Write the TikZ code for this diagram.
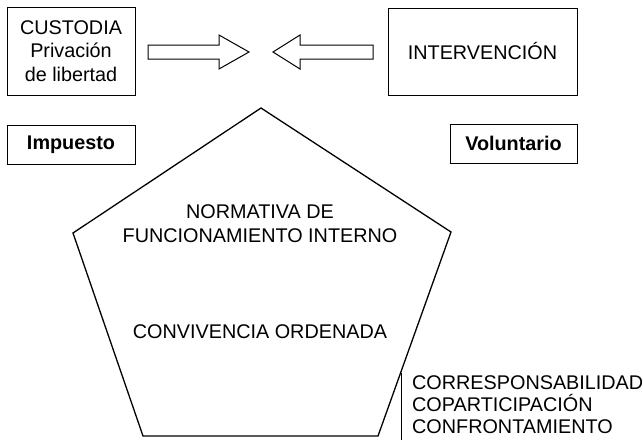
\documentclass[tikz,border=0pt]{standalone}
\usepackage{fontspec}
\setmainfont{Liberation Sans}
\begin{document}
\begin{tikzpicture}[x=1pt,y=-1pt,
  box/.style={draw,line width=1pt,inner sep=0pt,align=center,font=\fontsize{19.8}{23.5}\selectfont},
  txt/.style={inner sep=0pt,align=center,font=\fontsize{19.8}{24}\selectfont},
  arr/.style={draw,line width=1pt,line join=miter}]
\useasboundingbox (0,0) rectangle (643,440);
% boxes
\node[box,minimum width=128pt,minimum height=88pt] (cust) at (71,51) {CUSTODIA\\Privación\\de libertad};
\node[box,minimum width=189pt,minimum height=87pt] (interv) at (482.5,51.5) {INTERVENCIÓN};
\node[box,minimum width=128pt,minimum height=39pt,font=\fontsize{19.8}{23.5}\selectfont\bfseries] (imp) at (71,144.5) {Impuesto};
\node[box,minimum width=127pt,minimum height=39pt,font=\fontsize{19.8}{23.5}\selectfont\bfseries] (vol) at (513.5,143.5) {Voluntario};
% block arrows
\draw[arr] (148,45) -- (219,45) -- (219,35) -- (249,52) -- (219,69) -- (219,59) -- (148,59) -- cycle;
\draw[arr] (373,45) -- (300,45) -- (300,35) -- (273,52) -- (300,69) -- (300,59) -- (373,59) -- cycle;
% pentagon
\coordinate (pt) at (261,108);
\coordinate (pr) at (451,232);
\coordinate (pbr) at (378,436);
\coordinate (pbl) at (143,436);
\coordinate (pl) at (73,233);
\draw[line width=1.3pt,line join=miter] (pt) -- (pr) -- (pbr) -- (pbl) -- (pl) -- cycle;
\node[txt] (norm) at (260,224) {NORMATIVA DE\\FUNCIONAMIENTO INTERNO};
\node[txt] (conv) at (260,332) {CONVIVENCIA ORDENADA};
% bottom right list
\coordinate (vt) at (401,373);
\coordinate (vb) at (401,440);
\draw[line width=1pt] (vt) -- (vb);
\node[inner sep=0pt,anchor=west,align=left,font=\fontsize{19.8}{22}\selectfont] (list) at (412,405) {CORRESPONSABILIDAD\\COPARTICIPACIÓN\\CONFRONTAMIENTO};
\end{tikzpicture}
\end{document}
